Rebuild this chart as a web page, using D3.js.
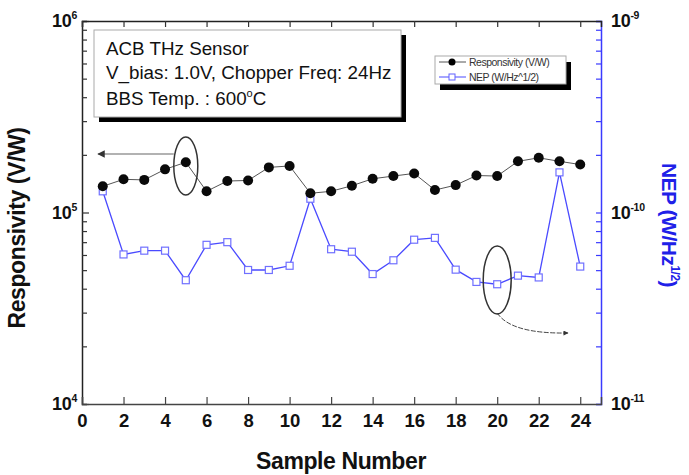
<!DOCTYPE html>
<html>
<head>
<meta charset="utf-8">
<script src="https://cdn.jsdelivr.net/npm/d3@7"></script>
<style>
  body { margin: 0; background: #fff; }
  text { font-family: Arial, "Liberation Sans", sans-serif; }
</style>
</head>
<body>
<div id="chart"></div>
<script>
// sample numbers 1..24
const samples = [1, 2, 3, 4, 5, 6, 7, 8, 9, 10, 11, 12, 13, 14, 15, 16, 17, 18, 19, 20, 21, 22, 23, 24];
// responsivity (V/W)
const responsivity = [1.37e5, 1.49e5, 1.48e5, 1.68e5, 1.83e5, 1.29e5, 1.46e5, 1.47e5, 1.72e5, 1.75e5, 1.26e5, 1.29e5,
    1.38e5, 1.50e5, 1.55e5, 1.60e5, 1.31e5, 1.39e5, 1.56e5, 1.55e5, 1.85e5, 1.93e5, 1.85e5, 1.78e5];
// NEP (W/Hz^1/2)
const nep = [1.29e-10, 6.04e-11, 6.32e-11, 6.32e-11, 4.43e-11, 6.78e-11, 7.00e-11, 5.01e-11, 5.01e-11, 5.27e-11, 1.18e-10, 6.43e-11,
    6.24e-11, 4.77e-11, 5.63e-11, 7.21e-11, 7.37e-11, 5.03e-11, 4.34e-11, 4.22e-11, 4.68e-11, 4.58e-11, 1.62e-10, 5.22e-11];
const xTicks = [0, 2, 4, 6, 8, 10, 12, 14, 16, 18, 20, 22, 24];
const leftDecades = [4, 5, 6];
const rightDecades = [-11, -10, -9];
const infoLines = ['ACB THz Sensor', 'V_bias: 1.0V, Chopper Freq: 24Hz', 'BBS Temp. : 600'];
const legendNames = ['Responsivity (V/W)', 'NEP (W/Hz^1/2)'];

const width = 689, height = 475;
const mLeft = 82, mRight = 601, mTop = 21, mBottom = 404;
const blue = '#3a3aff';

const svg = d3.select('#chart').append('svg')
    .attr('width', width)
    .attr('height', height);

const x = d3.scaleLinear().domain([0, 25]).range([mLeft, mRight]);
const yL = d3.scaleLog().domain([1e4, 1e6]).range([mBottom, mTop]);
const yR = d3.scaleLog().domain([1e-11, 1e-9]).range([mBottom, mTop]);

/* minor tick values for log axes */
function logTicks(lo, hi) {
    const out = [];
    for (let e = lo; e < hi; e++) {
        for (let m = 1; m < 10; m++) out.push(m * Math.pow(10, e));
    }
    out.push(Math.pow(10, hi));
    return out;
}

/* left axis */
svg.append('g')
    .attr('transform', `translate(${mLeft},0)`)
    .call(d3.axisLeft(yL).tickValues(logTicks(4, 6)).tickSize(-5).tickFormat(''))
    .call(g => g.select('.domain').attr('stroke', '#222').attr('stroke-width', 1.5))
    .call(g => g.selectAll('.tick line').attr('stroke', '#333').attr('stroke-width', 1.2)
        .attr('x2', d => Math.abs(Math.log10(d) % 1) < 1e-9 ? 7 : 5));

/* right axis */
svg.append('g')
    .attr('transform', `translate(${mRight},0)`)
    .call(d3.axisRight(yR).tickValues(logTicks(-11, -9)).tickSize(-5).tickFormat(''))
    .call(g => g.select('.domain').attr('stroke', blue).attr('stroke-width', 1.5))
    .call(g => g.selectAll('.tick line').attr('stroke', blue).attr('stroke-width', 1.2));

/* top axis */
svg.append('g')
    .attr('transform', `translate(0,${mTop})`)
    .call(d3.axisTop(x).tickValues(xTicks).tickSize(-6).tickFormat(''))
    .call(g => g.select('.domain').attr('stroke', '#222').attr('stroke-width', 1.5))
    .call(g => g.selectAll('.tick line').attr('stroke', '#333').attr('stroke-width', 1.2));

/* bottom axis */
svg.append('g')
    .attr('transform', `translate(0,${mBottom})`)
    .call(d3.axisBottom(x).tickValues(xTicks).tickSize(-7).tickPadding(10))
    .call(g => g.select('.domain').attr('stroke', '#444').attr('stroke-width', 1.5))
    .call(g => g.selectAll('.tick line').attr('stroke', '#444').attr('stroke-width', 1.2))
    .call(g => g.selectAll('.tick text')
        .attr('fill', '#111')
        .style('font-size', '18.5px')
        .style('font-weight', 'bold')
        .style('font-family', 'Arial, "Liberation Sans", sans-serif'));

/* decade labels */
function decadeLabel(sel, e, xPos, yPos, anchor) {
    const t = sel.append('text')
        .attr('x', xPos)
        .attr('y', yPos + 6)
        .attr('text-anchor', anchor)
        .attr('fill', '#111')
        .style('font-size', '18px')
        .style('font-weight', 'bold')
        .style('letter-spacing', '-0.3px');
    t.append('tspan').text('10');
    t.append('tspan').attr('dy', -8).style('font-size', '10.5px').text(e);
}
leftDecades.forEach(e => decadeLabel(svg, e, 77, yL(Math.pow(10, e)), 'end'));
rightDecades.forEach(e => decadeLabel(svg, e, 611, yR(Math.pow(10, e)), 'start'));

/* axis titles */
svg.append('text')
    .attr('x', 341)
    .attr('y', 469)
    .attr('text-anchor', 'middle')
    .attr('fill', '#111')
    .style('font-size', '23px')
    .style('font-weight', 'bold')
    .style('letter-spacing', '-0.4px')
    .text('Sample Number');

svg.append('text')
    .attr('transform', 'translate(25,228) rotate(-90)')
    .attr('text-anchor', 'middle')
    .attr('fill', '#111')
    .style('font-size', '23px')
    .style('font-weight', 'bold')
    .style('letter-spacing', '-0.4px')
    .text('Responsivity (V/W)');

const rt = svg.append('text')
    .attr('transform', 'translate(662,225) rotate(90)')
    .attr('text-anchor', 'middle')
    .attr('fill', '#2020e8')
    .style('font-size', '21px')
    .style('font-weight', 'bold')
    .style('letter-spacing', '-0.5px');
rt.append('tspan').text('NEP (W/Hz');
rt.append('tspan').attr('dy', -9).style('font-size', '12px').text('1/2');
rt.append('tspan').attr('dy', 9).text(')');

/* data lines */
const respData = samples.map((s, i) => ({ x: s, y: responsivity[i] }));
const nepData = samples.map((s, i) => ({ x: s, y: nep[i] }));

svg.append('path')
    .datum(nepData)
    .attr('fill', 'none')
    .attr('stroke', '#4a4aff')
    .attr('stroke-width', 1.3)
    .attr('d', d3.line().x(d => x(d.x)).y(d => yR(d.y)));

svg.selectAll('.nep')
    .data(nepData)
    .enter().append('rect')
    .attr('class', 'nep')
    .attr('x', d => x(d.x) - 3.5)
    .attr('y', d => yR(d.y) - 3.5)
    .attr('width', 7)
    .attr('height', 7)
    .attr('fill', '#fff')
    .attr('stroke', '#7070ff')
    .attr('stroke-width', 1.2);

svg.append('path')
    .datum(respData)
    .attr('fill', 'none')
    .attr('stroke', '#555')
    .attr('stroke-width', 1)
    .attr('d', d3.line().x(d => x(d.x)).y(d => yL(d.y)));

svg.selectAll('.resp')
    .data(respData)
    .enter().append('circle')
    .attr('class', 'resp')
    .attr('cx', d => x(d.x))
    .attr('cy', d => yL(d.y))
    .attr('r', 5)
    .attr('fill', '#0a0a0a');

/* annotations: ellipses and arrows */
svg.append('defs').append('marker')
    .attr('id', 'head')
    .attr('viewBox', '0 0 10 10')
    .attr('refX', 9).attr('refY', 5)
    .attr('markerWidth', 7).attr('markerHeight', 5)
    .attr('orient', 'auto')
    .append('path').attr('d', 'M0,0 L10,5 L0,10 z').attr('fill', '#333');

svg.append('ellipse')
    .attr('cx', x(5)).attr('cy', 166)
    .attr('rx', 12).attr('ry', 29)
    .attr('fill', 'none').attr('stroke', '#333').attr('stroke-width', 1.5);

svg.append('line')
    .attr('x1', x(5) - 12).attr('y1', 154)
    .attr('x2', 98).attr('y2', 154)
    .attr('stroke', '#999').attr('stroke-width', 1.5)
    .attr('marker-end', 'url(#head)');

svg.append('ellipse')
    .attr('cx', x(20)).attr('cy', 280)
    .attr('rx', 14).attr('ry', 34)
    .attr('fill', 'none').attr('stroke', '#333').attr('stroke-width', 1.5);

svg.append('path')
    .attr('d', `M${x(20)},313 Q${x(20) + 14},334 568,333`)
    .attr('fill', 'none')
    .attr('stroke', '#444').attr('stroke-width', 1)
    .attr('stroke-dasharray', '5,1.5')
    .attr('marker-end', 'url(#head)');

/* info box */
svg.append('rect').attr('x', 99).attr('y', 35).attr('width', 307).attr('height', 87).attr('fill', '#000');
svg.append('rect').attr('x', 94).attr('y', 30).attr('width', 307).attr('height', 87)
    .attr('fill', '#fff').attr('stroke', '#aaa').attr('stroke-width', 1);

const info = svg.append('g');
info.append('text').attr('x', 106).attr('y', 55).style('font-size', '18.8px').attr('fill', '#111')
    .text(infoLines[0]);
info.append('text').attr('x', 106).attr('y', 79).style('font-size', '18.8px').attr('fill', '#111')
    .text(infoLines[1]);
const t3 = info.append('text').attr('x', 106).attr('y', 105).style('font-size', '18.8px').attr('fill', '#111');
t3.append('tspan').text(infoLines[2]);
t3.append('tspan').attr('dy', -8).style('font-size', '11px').text('o');
t3.append('tspan').attr('dy', 8).text('C');

/* legend */
svg.append('rect').attr('x', 440).attr('y', 62).attr('width', 131).attr('height', 28).attr('fill', '#000');
svg.append('rect').attr('x', 435).attr('y', 56).attr('width', 131).attr('height', 28)
    .attr('fill', '#fff').attr('stroke', '#aaa').attr('stroke-width', 1);

const lg = svg.append('g');
lg.append('line').attr('x1', 439).attr('x2', 466).attr('y1', 62).attr('y2', 62).attr('stroke', '#555');
lg.append('circle').attr('cx', 452).attr('cy', 62).attr('r', 3.5).attr('fill', '#000');
lg.append('text').attr('x', 469).attr('y', 65.5).style('font-size', '10.5px').attr('fill', '#333')
    .style('letter-spacing', '-0.5px').text(legendNames[0]);
lg.append('line').attr('x1', 439).attr('x2', 466).attr('y1', 77).attr('y2', 77).attr('stroke', '#4a4aff');
lg.append('rect').attr('x', 449).attr('y', 74).attr('width', 6).attr('height', 6)
    .attr('fill', '#fff').attr('stroke', '#6060ff');
lg.append('text').attr('x', 469).attr('y', 80.5).style('font-size', '10.5px').attr('fill', '#333')
    .style('letter-spacing', '-0.5px').text(legendNames[1]);
</script>
</body>
</html>
